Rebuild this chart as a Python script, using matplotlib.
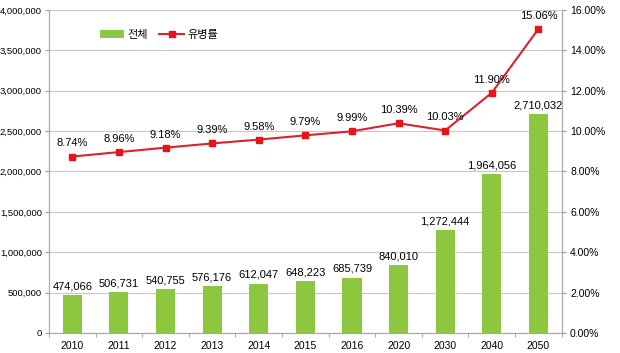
# 연도별 전체 환자 수와 유병률
import matplotlib
matplotlib.use('Agg')
import matplotlib.pyplot as plt
import matplotlib.ticker as mticker

plt.rcParams['font.family'] = ['Liberation Sans', 'Noto Sans CJK KR']

years = ['2010', '2011', '2012', '2013', '2014', '2015', '2016', '2020', '2030', '2040', '2050']
total = [474066, 506731, 540755, 576176, 612047, 648223, 685739, 840010, 1272444, 1964056, 2710032]
rate = [8.74, 8.96, 9.18, 9.39, 9.58, 9.79, 9.99, 10.39, 10.03, 11.90, 15.06]

fig = plt.figure(figsize=(6.2, 3.53), dpi=100)
ax = fig.add_axes([0.079, 0.0567, 0.827, 0.915])
x = range(len(years))

bars = ax.bar(x, total, width=0.41, color='#8DC63F', label='전체', zorder=2)
ax.set_ylim(0, 4000000)
ax.set_xlim(-0.5, len(years) - 0.5)
ax.yaxis.set_major_locator(mticker.MultipleLocator(500000))
ax.yaxis.set_major_formatter(mticker.FuncFormatter(lambda v, p: f'{int(v):,}'))
ax.grid(axis='y', color='#C8C8C8', linewidth=0.8, zorder=0)
ax.set_xticks(list(x))
ax.set_xticklabels(years)
ax.set_xticks([i + 0.5 for i in range(-1, len(years))], minor=True)
ax.tick_params(axis='x', which='major', length=0, pad=6, labelsize=7.5)
ax.tick_params(axis='x', which='minor', length=3, color='#999999')
ax.tick_params(axis='y', labelsize=6.8, length=3, pad=2, color='#999999')
ax.spines['top'].set_visible(False)
for s in ['left', 'right', 'bottom']:
    ax.spines[s].set_color('#AAAAAA')

for i, v in enumerate(total):
    ax.text(i, v + 45000, f'{v:,}', ha='center', va='bottom', fontsize=8)

ax2 = ax.twinx()
line, = ax2.plot(x, rate, color='#D9232D', linewidth=1.5, marker='s', markersize=5,
                 markerfacecolor='#E8141C', markeredgecolor='#E8141C', label='유병률', zorder=3)
ax2.set_ylim(0, 16)
ax2.yaxis.set_major_locator(mticker.MultipleLocator(2))
ax2.yaxis.set_major_formatter(mticker.FuncFormatter(lambda v, p: f'{v:.2f}%'))
ax2.tick_params(axis='y', labelsize=7.5, length=3, pad=3, color='#999999')
ax2.spines['top'].set_visible(False)
for s in ['left', 'right', 'bottom']:
    ax2.spines[s].set_color('#AAAAAA')

for i, v in enumerate(rate):
    ax2.text(i, v + 0.4, f'{v:.2f}%', ha='center', va='bottom', fontsize=8)

ax2.legend([bars, line], ['전체', '유병률'], loc='upper left', bbox_to_anchor=(0.08, 0.97),
           ncol=2, frameon=False, fontsize=8, handlelength=2.2, columnspacing=1.0, handletextpad=0.3)

fig.savefig('out.png', dpi=100)
